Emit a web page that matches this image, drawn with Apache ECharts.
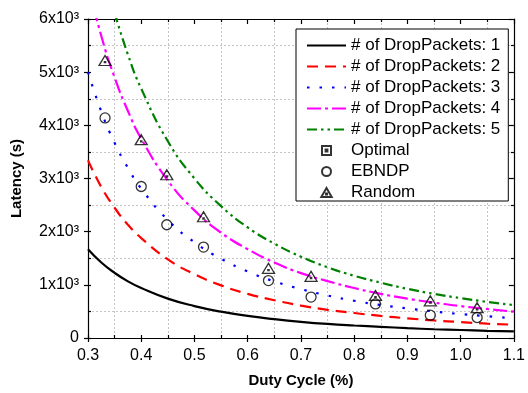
<!DOCTYPE html>
<html>
<head>
<meta charset="utf-8">
<script src="https://cdn.jsdelivr.net/npm/echarts@6/dist/echarts.min.js"></script>
<style>
  html, body { margin: 0; background: #fff; }
  #chart { width: 528px; height: 393px; }
</style>
</head>
<body>
<div id="chart"></div>
<script>
// values
const dutyCycle = [0.30, 0.325, 0.35, 0.375, 0.40, 0.45, 0.50, 0.55, 0.60, 0.65, 0.70, 0.75, 0.80, 0.85, 0.90, 0.95, 1.00, 1.05, 1.10]
const drop1 = [1670, 1420, 1225, 1065, 940, 740, 600, 495, 415, 355, 305, 265, 235, 210, 185, 165, 150, 135, 125]
const drop2 = [3340, 2840, 2450, 2130, 1880, 1480, 1200, 990, 830, 710, 610, 530, 470, 415, 370, 330, 300, 270, 250]
const drop3 = [5000, 4260, 3670, 3200, 2810, 2220, 1800, 1490, 1250, 1065, 920, 800, 700, 620, 555, 500, 450, 410, 370]
const drop4 = [6670, 5680, 4900, 4270, 3750, 2960, 2400, 1980, 1670, 1420, 1220, 1070, 940, 830, 740, 665, 600, 545, 495]
const drop5 = [null, null, 6120, 5330, 4690, 3700, 3000, 2480, 2080, 1775, 1530, 1330, 1170, 1040, 925, 830, 750, 680, 620]

const sampleX = [0.332, 0.40, 0.448, 0.517, 0.639, 0.719, 0.84, 0.943, 1.031]
const ebndp = [4140, 2850, 2130, 1710, 1080, 770, 640, 430, 385]
const randomPick = [5220, 3730, 3070, 2280, 1310, 1160, 800, 700, 570]

const lineNames = ['# of DropPackets: 1', '# of DropPackets: 2', '# of DropPackets: 3', '# of DropPackets: 4', '# of DropPackets: 5']
const lineColors = ['#000000', '#ff0000', '#0000ff', '#ff00ff', '#008000']
const lineDash = ['solid', [11, 7], [2.5, 10], [14, 4, 3, 4], [10, 4, 2.5, 4, 2.5, 4]]
const lineValues = [drop1, drop2, drop3, drop4, drop5]

const font = "'Liberation Sans', Arial, sans-serif"
const black = { color: '#000', width: 1.2 }
const gridLine = { show: true, lineStyle: { color: '#c4c4c4', type: [2, 2], width: 1 } }

const chart = echarts.init(document.getElementById('chart'))

const lineSeries = lineNames.map((name, k) => ({
  name,
  type: 'line',
  symbol: 'none',
  smooth: 0.5,
  z: 3,
  lineStyle: { color: lineColors[k], width: 2.2, type: lineDash[k] },
  itemStyle: { color: lineColors[k] },
  data: dutyCycle.map((x, i) => [x, lineValues[k][i]])
}))

const option = {
  animation: false,
  grid: { left: 88, right: 10, top: 19, bottom: 55 },
  xAxis: [
    {
      type: 'value', min: 0.3, max: 1.1, interval: 0.1, position: 'bottom',
      axisLine: { onZero: false, lineStyle: black },
      axisTick: { inside: false, length: 4, lineStyle: black },
      minorTick: { show: false, splitNumber: 2 },
      minorSplitLine: gridLine,
      splitLine: { show: false },
      axisLabel: { formatter: v => v.toFixed(1), margin: 10, color: '#000', fontSize: 16, fontFamily: font },
      name: 'Duty Cycle (%)', nameLocation: 'middle', nameGap: 35,
      nameTextStyle: { fontWeight: 'bold', fontSize: 15, color: '#000', fontFamily: font }
    },
    {
      type: 'value', min: 0.3, max: 1.1, interval: 0.05, position: 'bottom',
      axisLine: { show: false }, axisTick: { inside: true, length: 3, lineStyle: black },
      axisLabel: { show: false }, splitLine: { show: false }
    },
    {
      type: 'value', min: 0.3, max: 1.1, interval: 0.1, position: 'top',
      axisLine: { onZero: false, lineStyle: black },
      axisTick: { inside: true, length: 5, lineStyle: black },
      minorTick: { show: true, splitNumber: 2, length: 3, lineStyle: black },
      axisLabel: { show: false }, splitLine: { show: false }
    }
  ],
  yAxis: [
    {
      type: 'value', min: 0, max: 6000, interval: 1000, position: 'left',
      axisLine: { show: true, onZero: false, lineStyle: black },
      axisTick: { show: true, inside: false, length: 4, lineStyle: black },
      minorTick: { show: false, splitNumber: 2 },
      minorSplitLine: gridLine,
      splitLine: { show: false },
      axisLabel: { formatter: v => v === 0 ? '0' : (v / 1000) + 'x10³', margin: 9, color: '#000', fontSize: 16, fontFamily: font },
      name: 'Latency (s)', nameLocation: 'middle', nameGap: 64,
      nameTextStyle: { fontWeight: 'bold', fontSize: 15, color: '#000', fontFamily: font }
    },
    {
      type: 'value', min: 0, max: 6000, interval: 500, position: 'left',
      axisLine: { show: false }, axisTick: { show: true, inside: true, length: 3, lineStyle: black },
      axisLabel: { show: false }, splitLine: { show: false }
    },
    {
      type: 'value', min: 0, max: 6000, interval: 1000, position: 'right',
      axisLine: { show: true, onZero: false, lineStyle: black },
      axisTick: { show: true, inside: true, length: 5, lineStyle: black },
      minorTick: { show: true, splitNumber: 2, length: 3, lineStyle: black },
      axisLabel: { show: false }, splitLine: { show: false }
    }
  ],
  legend: {
    orient: 'vertical', left: 296, top: 29,
    padding: [8, 8, 0, 10], itemGap: 4, itemWidth: 39, itemHeight: 9,
    backgroundColor: '#fff', borderColor: '#000', borderWidth: 1,
    textStyle: { fontSize: 17, lineHeight: 17, color: '#000', fontFamily: font },
    data: [
      ...lineNames.map(name => ({ name, itemStyle: { opacity: 0 } })),
      'Optimal', 'EBNDP', 'Random'
    ]
  },
  series: [
    ...lineSeries,
    {
      name: 'Optimal', type: 'scatter',
      symbol: 'path://M0,0H10V10H0Z M4,4H6V6H4Z', symbolSize: 9,
      itemStyle: { color: 'transparent', borderColor: '#000', borderWidth: 1.2 },
      data: []
    },
    {
      name: 'EBNDP', type: 'scatter', symbol: 'circle', symbolSize: 10, z: 4,
      itemStyle: { color: 'transparent', borderColor: '#000', borderWidth: 1.3 },
      data: sampleX.map((x, i) => [x, ebndp[i]])
    },
    {
      name: 'Random', type: 'scatter', z: 4,
      symbol: 'path://M5,0L10,8.66L0,8.66Z M4.5,5.3L5.5,5.3L5.5,6.3L4.5,6.3Z', symbolSize: [12, 10],
      itemStyle: { color: 'transparent', borderColor: '#000', borderWidth: 1.3 },
      data: sampleX.map((x, i) => [x, randomPick[i]])
    }
  ]
}

chart.setOption(option)
</script>
</body>
</html>
